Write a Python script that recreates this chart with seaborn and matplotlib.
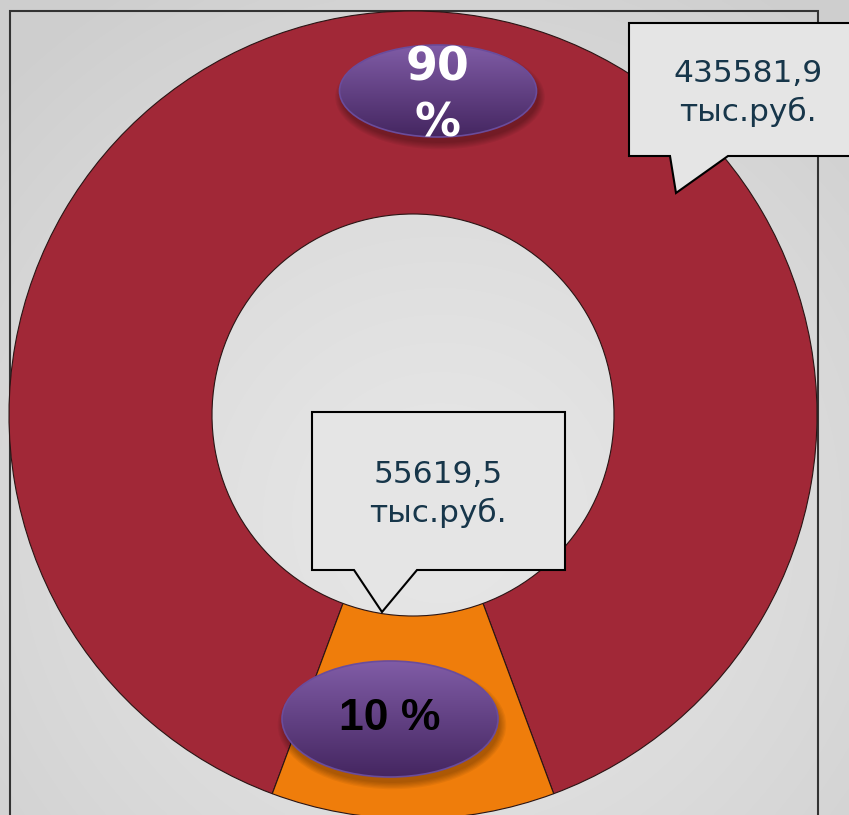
import matplotlib
matplotlib.use("Agg")
import matplotlib.pyplot as plt
import numpy as np
import seaborn as sns
from matplotlib.patches import Ellipse, Polygon, Rectangle

# data
values = [435581.9, 55619.5]
value_labels = ["435581,9\nтыс.руб.", "55619,5\nтыс.руб."]
pct_labels = ["90\n%", "10 %"]
colors = sns.color_palette(["#A12837", "#EF7D0B"])

W, H = 849, 815

sns.set_style("white")
plt.rcParams['font.family'] = ['DejaVu Sans']

fig = plt.figure(figsize=(W / 100, H / 100), dpi=100)
ax = fig.add_axes([0, 0, 1, 1])


def py(y):
    # pixel row -> data y
    return H - y


# soft grey background
yy, xx = np.mgrid[0:H:2, 0:W:2]
d = np.clip(np.hypot((xx - 440) / 620, (yy - 520) / 620), 0, 1)
c0 = np.array([0.905, 0.905, 0.905])
c1 = np.array([0.81, 0.81, 0.81])
bg = c0 + (c1 - c0) * d[..., None] ** 1.3
ax.imshow(bg, extent=(0, W, 0, H), origin='upper', zorder=0, interpolation='bilinear')

# frame
ax.add_patch(Rectangle((10, -10), 808, py(11) + 10, fill=False, ec='#333333', lw=1.5, zorder=1))

# donut
frac = values[1] / sum(values)
wedges, _ = ax.pie(values, colors=colors, startangle=270 + 180 * frac,
                   radius=404, center=(413, py(415)),
                   wedgeprops=dict(width=203, edgecolor='#2a1414', linewidth=0.8))
for w in wedges:
    w.set_zorder(2)


def badge(cx, cy, w, h, text, tcolor, family, size, linespacing=1.0, dy=0):
    y = py(cy)
    for k in range(6):
        ax.add_patch(Ellipse((cx + 2, y - 6), w + k * 2.5, h + k * 2.5,
                             fc='black', ec='none', alpha=0.05, zorder=4))
    e = Ellipse((cx, y), w, h, fc='none', ec='#6A4C9C', lw=1.2, zorder=6)
    ax.add_patch(e)
    g = np.linspace(0, 1, 64)[:, None]
    top = np.array([0.50, 0.36, 0.65])
    bot = np.array([0.27, 0.15, 0.38])
    grad = top + (bot - top) * g[..., None]
    grad = np.repeat(grad, 4, axis=1)
    im = ax.imshow(grad, extent=(cx - w / 2, cx + w / 2, y - h / 2, y + h / 2),
                   origin='upper', zorder=5, interpolation='bilinear')
    im.set_clip_path(e)
    ax.text(cx, y - dy, text, ha='center', va='center', color=tcolor, fontsize=size,
            fontweight='bold', family=family, linespacing=linespacing, zorder=9)


def callout(pts, text, tx, ty):
    ax.add_patch(Polygon([(x, py(y)) for x, y in pts], closed=True, fc='#E5E5E5',
                         ec='black', lw=1.5, zorder=7))
    ax.text(tx, py(ty), text, ha='center', va='center', fontsize=22.5,
            color='#17364A', zorder=8, linespacing=1.35)


badge(438, 91, 197, 92, pct_labels[0], 'white', ['DejaVu Sans'], 33, linespacing=1.3, dy=5)
badge(390, 719, 216, 116, pct_labels[1], 'black', ['Liberation Sans'], 32)

callout([(629, 23), (875, 23), (875, 156), (728, 156), (676, 193), (670, 156), (629, 156)],
        value_labels[0], 748, 93)
callout([(312, 412), (565, 412), (565, 570), (417, 570), (382, 612), (354, 570), (312, 570)],
        value_labels[1], 438, 494)

ax.set_xlim(0, W)
ax.set_ylim(0, H)
ax.set_axis_off()

fig.savefig("out.png", dpi=100)
